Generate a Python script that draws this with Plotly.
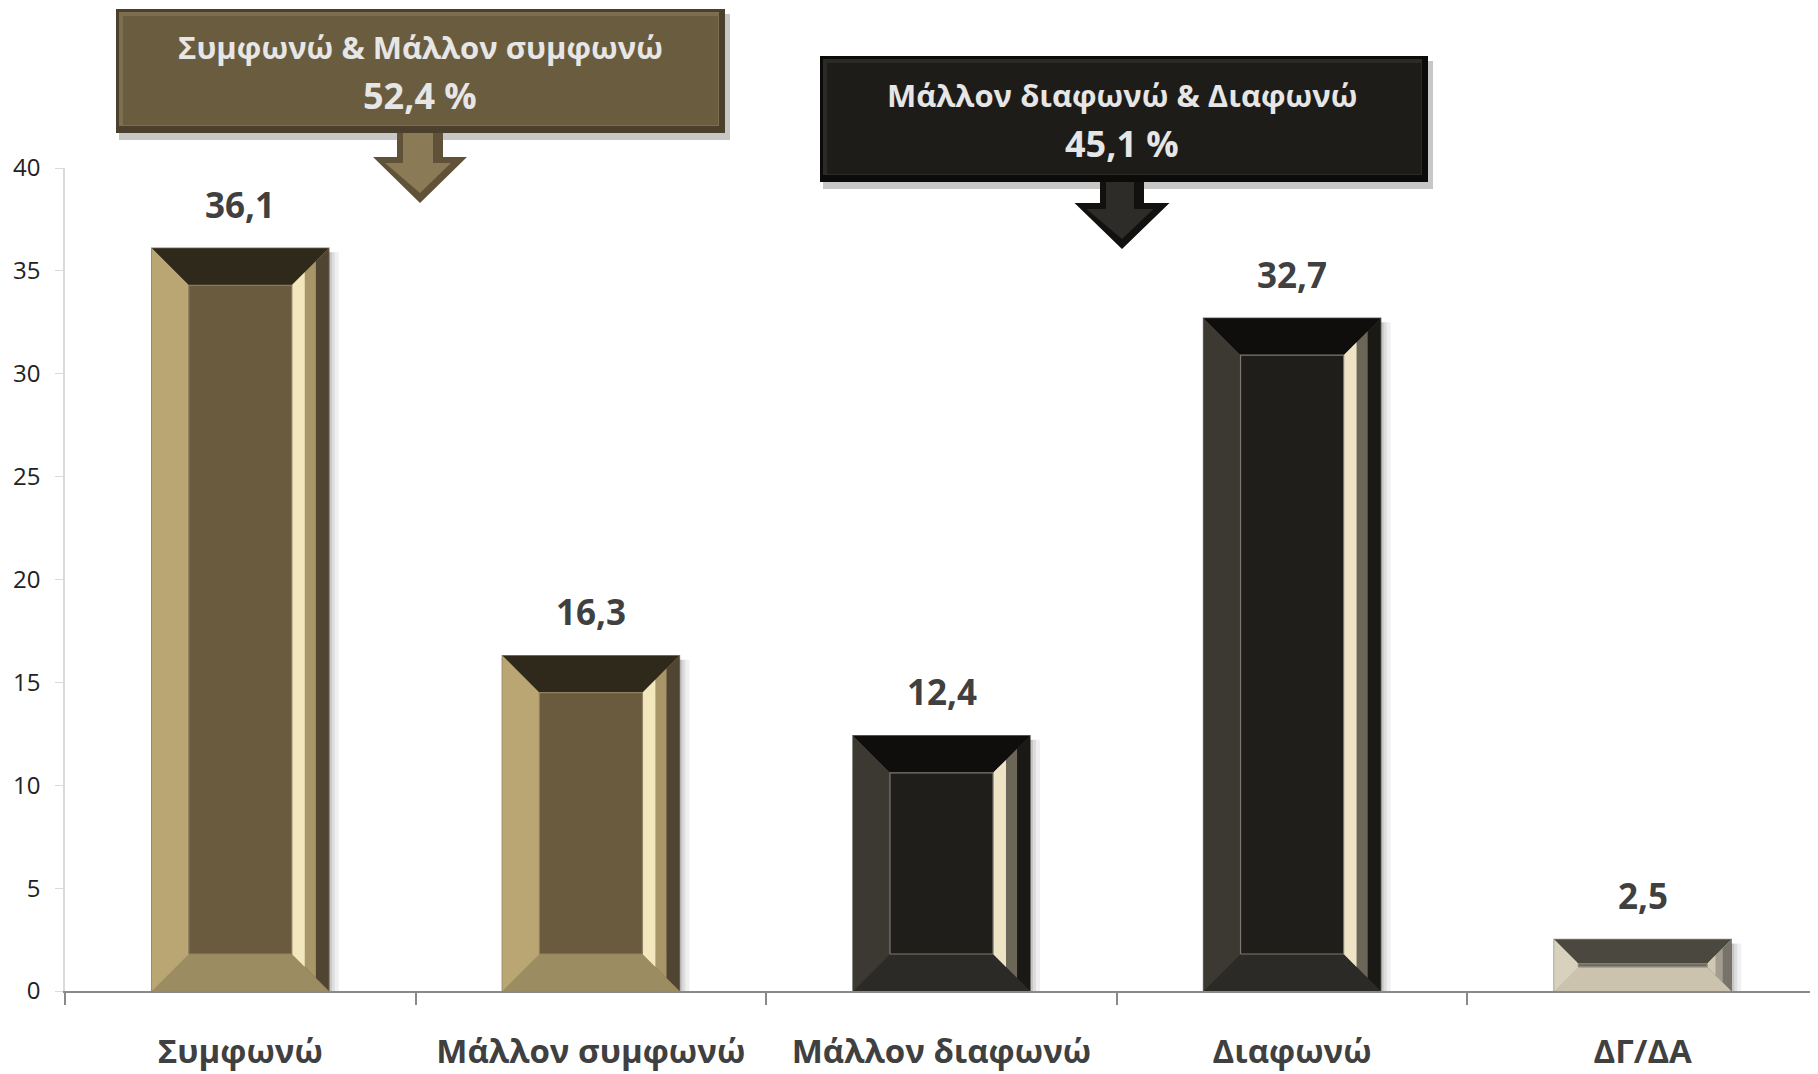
import plotly.graph_objects as go

# ---------------- data ----------------
categories = ["Συμφωνώ", "Μάλλον συμφωνώ", "Μάλλον διαφωνώ", "Διαφωνώ", "ΔΓ/ΔΑ"]
values = [36.1, 16.3, 12.4, 32.7, 2.5]
value_labels = ["36,1", "16,3", "12,4", "32,7", "2,5"]
bar_groups = ["agree", "agree", "disagree", "disagree", "dk"]
y_ticks = [0, 5, 10, 15, 20, 25, 30, 35, 40]
group_titles = ["Συμφωνώ & Μάλλον συμφωνώ", "Μάλλον διαφωνώ & Διαφωνώ"]
group_totals = ["52,4 %", "45,1 %"]

# ---------------- style ----------------
OFF = 8  # page body margin of the browser
W, H = 1818 - OFF, 1074 - OFF
ML, MT = 65 - OFF, 168 - OFF
MR = 0
MB = H - (991 - OFF)
PW, PH = W - ML - MR, H - MT - MB
XR = (-0.5, 4.5)
YR = (0, 40)
PX_X = PW / (XR[1] - XR[0])
PX_Y = PH / (YR[1] - YR[0])
BAR_W = 0.505
BEVEL_PX = 37
FONT = "Open Sans"

palettes = {
    "agree": dict(inner="#6a5b3e", top="#2f291c", bottom="#9c8c62", left="#b9a673",
                  r_out="#4f4532", r_mid="#a89668", r_hi="#f3e7bd", edge="#8e8163", outline="#8a8270"),
    "disagree": dict(inner="#1f1e1a", top="#0f0e0c", bottom="#2c2a26", left="#3c3933",
                     r_out="#1a1916", r_mid="#6b6658", r_hi="#eee3c5", edge="#7d786e", outline="#6e6b64"),
    "dk": dict(inner="#6e6a5e", top="#4b493f", bottom="#cbc3ae", left="#d8d1bd",
               r_out="#77736a", r_mid="#a39d8e", r_hi="#cfc8b5", edge="#8a867c", outline="#8c8c84"),
}

fig = go.Figure()

# base bars (outer body)
fig.add_trace(go.Bar(
    x=list(range(len(categories))), y=values, width=BAR_W,
    marker=dict(color=[palettes[g]["left"] for g in bar_groups],
                line=dict(color=[palettes[g]["outline"] for g in bar_groups], width=1.5)),
    hoverinfo="skip", showlegend=False,
))


def poly(xs, ys, color, line_color=None, lw=0):
    fig.add_trace(go.Scatter(
        x=xs + [xs[0]], y=ys + [ys[0]], mode="lines", fill="toself", fillcolor=color,
        line=dict(color=line_color or color, width=lw), hoverinfo="skip", showlegend=False,
    ))


for i, (v, g) in enumerate(zip(values, bar_groups)):
    p = palettes[g]
    hpx = v * PX_Y
    bpx = min(BEVEL_PX, hpx * 0.47)
    bx = bpx / PX_X
    by = bpx / PX_Y
    x0, x1 = i - BAR_W / 2, i + BAR_W / 2
    y0, y1 = 0, v
    xi0, xi1 = x0 + bx, x1 - bx
    yi0, yi1 = y0 + by, y1 - by
    # soft shadow on the right
    for k, a in ((10, 0.06), (6, 0.08), (3, 0.10)):
        poly([x1, x1 + k / PX_X, x1 + k / PX_X, x1],
             [y0, y0, y1 - 4 / PX_Y, y1 - 4 / PX_Y], f"rgba(0,0,0,{a})")
    # bevel faces
    poly([x0, x1, xi1, xi0], [y1, y1, yi1, yi1], p["top"])
    poly([x0, x1, xi1, xi0], [y0, y0, yi0, yi0], p["bottom"])
    poly([x0, x0, xi0, xi0], [y0, y1, yi1, yi0], p["left"])
    poly([x1, x1, xi1, xi1], [y0, y1, yi1, yi0], p["r_out"])
    fm = 0.65
    xm = xi1 + bx * fm
    poly([xi1, xm, xm, xi1], [yi0, yi0 - by * fm, yi1 + by * fm, yi1], p["r_mid"])
    fh = 0.35
    xh = xi1 + bx * fh
    poly([xi1, xh, xh, xi1], [yi0, yi0 - by * fh, yi1 + by * fh, yi1], p["r_hi"])
    # inner face
    poly([xi0, xi1, xi1, xi0], [yi0, yi0, yi1, yi1], p["inner"], p["edge"], 1.2)

# value labels
for i, (v, t) in enumerate(zip(values, value_labels)):
    fig.add_annotation(x=i, y=v, text=f"<b>{t}</b>", showarrow=False, yanchor="middle",
                       yshift=44, font=dict(family=FONT, size=35, color="#404040"))


# callout boxes (paper coordinates derived from screen pixel layout)
def px2paper_x(px):
    return (px - OFF - ML) / PW


def px2paper_y(py):
    return (H - MB - (py - OFF)) / PH


def rect(xa, ya, xb, yb, color, opacity=1.0):
    fig.add_shape(type="rect", xref="paper", yref="paper",
                  x0=px2paper_x(xa), x1=px2paper_x(xb), y0=px2paper_y(yb), y1=px2paper_y(ya),
                  fillcolor=color, line=dict(width=0), opacity=opacity, layer="above")


def path(points, color):
    d = "M " + " L ".join(f"{px2paper_x(a)},{px2paper_y(b)}" for a, b in points) + " Z"
    fig.add_shape(type="path", xref="paper", yref="paper", path=d,
                  fillcolor=color, line=dict(width=0), layer="above")


boxes = [
    dict(x0=116, y0=9, x1=725, y1=133, outer="#4a402d", fill="#6a5c3f", hl="#7d6e4f",
         arrow=dict(cx=420, sw=46, hw=94, htop=157, tip=203, c1="#8a7a55", c2="#5f5239")),
    dict(x0=820, y0=56, x1=1428, y1=182, outer="#0c0b0a", fill="#1d1c19", hl="#2c2a26",
         arrow=dict(cx=1122, sw=44, hw=95, htop=203, tip=249, c1="#2e2c28", c2="#121110")),
]
for b, title, tot in zip(boxes, group_titles, group_totals):
    # shadow
    rect(b["x0"] + 3, b["y0"] + 5, b["x1"] + 5, b["y1"] + 7, "rgba(0,0,0,0.22)")
    rect(b["x0"], b["y0"], b["x1"], b["y1"], b["outer"])
    rect(b["x0"] + 3, b["y0"] + 3, b["x1"] - 6, b["y1"] - 7, b["hl"])
    rect(b["x0"] + 7, b["y0"] + 7, b["x1"] - 7, b["y1"] - 8, b["fill"])
    a = b["arrow"]
    cx, sw, hw = a["cx"], a["sw"], a["hw"]
    path([(cx - sw / 2, b["y1"]), (cx + sw / 2, b["y1"]), (cx + sw / 2, a["htop"]),
          (cx + hw / 2, a["htop"]), (cx, a["tip"]), (cx - hw / 2, a["htop"]),
          (cx - sw / 2, a["htop"])], a["c2"])
    path([(cx - sw / 2 + 6, b["y1"]), (cx + sw / 2 - 10, b["y1"]), (cx + sw / 2 - 10, a["htop"] + 6),
          (cx + hw / 2 - 16, a["htop"] + 6), (cx, a["tip"] - 10), (cx - hw / 2 + 12, a["htop"] + 6),
          (cx - sw / 2 + 6, a["htop"] + 6)], a["c1"])
    ymid = (b["y0"] + b["y1"]) / 2
    fig.add_annotation(xref="paper", yref="paper", x=px2paper_x(cx), y=px2paper_y(ymid - 24),
                       text=f"<b>{title}</b>", showarrow=False, xanchor="center", yanchor="middle",
                       font=dict(family=FONT, size=31, color="#e6e6e6"))
    fig.add_annotation(xref="paper", yref="paper", x=px2paper_x(cx), y=px2paper_y(ymid + 24),
                       text=f"<b>{tot}</b>", showarrow=False, xanchor="center", yanchor="middle",
                       font=dict(family=FONT, size=36, color="#e6e6e6"))

fig.update_layout(
    width=W, height=H,
    margin=dict(l=ML, r=MR, t=MT, b=MB, pad=0, autoexpand=False),
    paper_bgcolor="white", plot_bgcolor="white",
    showlegend=False,
    xaxis=dict(range=list(XR), tickmode="array", tickvals=list(range(len(categories))),
               ticktext=[f"<b>{c}</b>" for c in categories], ticks="", showgrid=False,
               zeroline=False, showline=True, linecolor="#898989", linewidth=2,
               tickfont=dict(family=FONT, size=33, color="#404040"), ticklabelstandoff=30,
               minor=dict(tickmode="array", tickvals=[k - 0.5 for k in range(len(categories) + 1)],
                          ticks="outside", ticklen=12, tickcolor="#898989", tickwidth=1.5, showgrid=False),
               fixedrange=True),
    yaxis=dict(range=list(YR), tickmode="array", tickvals=y_ticks, ticks="outside", ticklen=8,
               tickcolor="#d9d9d9", showgrid=False, zeroline=False, showline=True,
               linecolor="#d9d9d9", linewidth=1.5,
               tickfont=dict(family=FONT, size=24, color="#222222"), ticklabelstandoff=10,
               fixedrange=True),
)

fig.write_html("out.html")
